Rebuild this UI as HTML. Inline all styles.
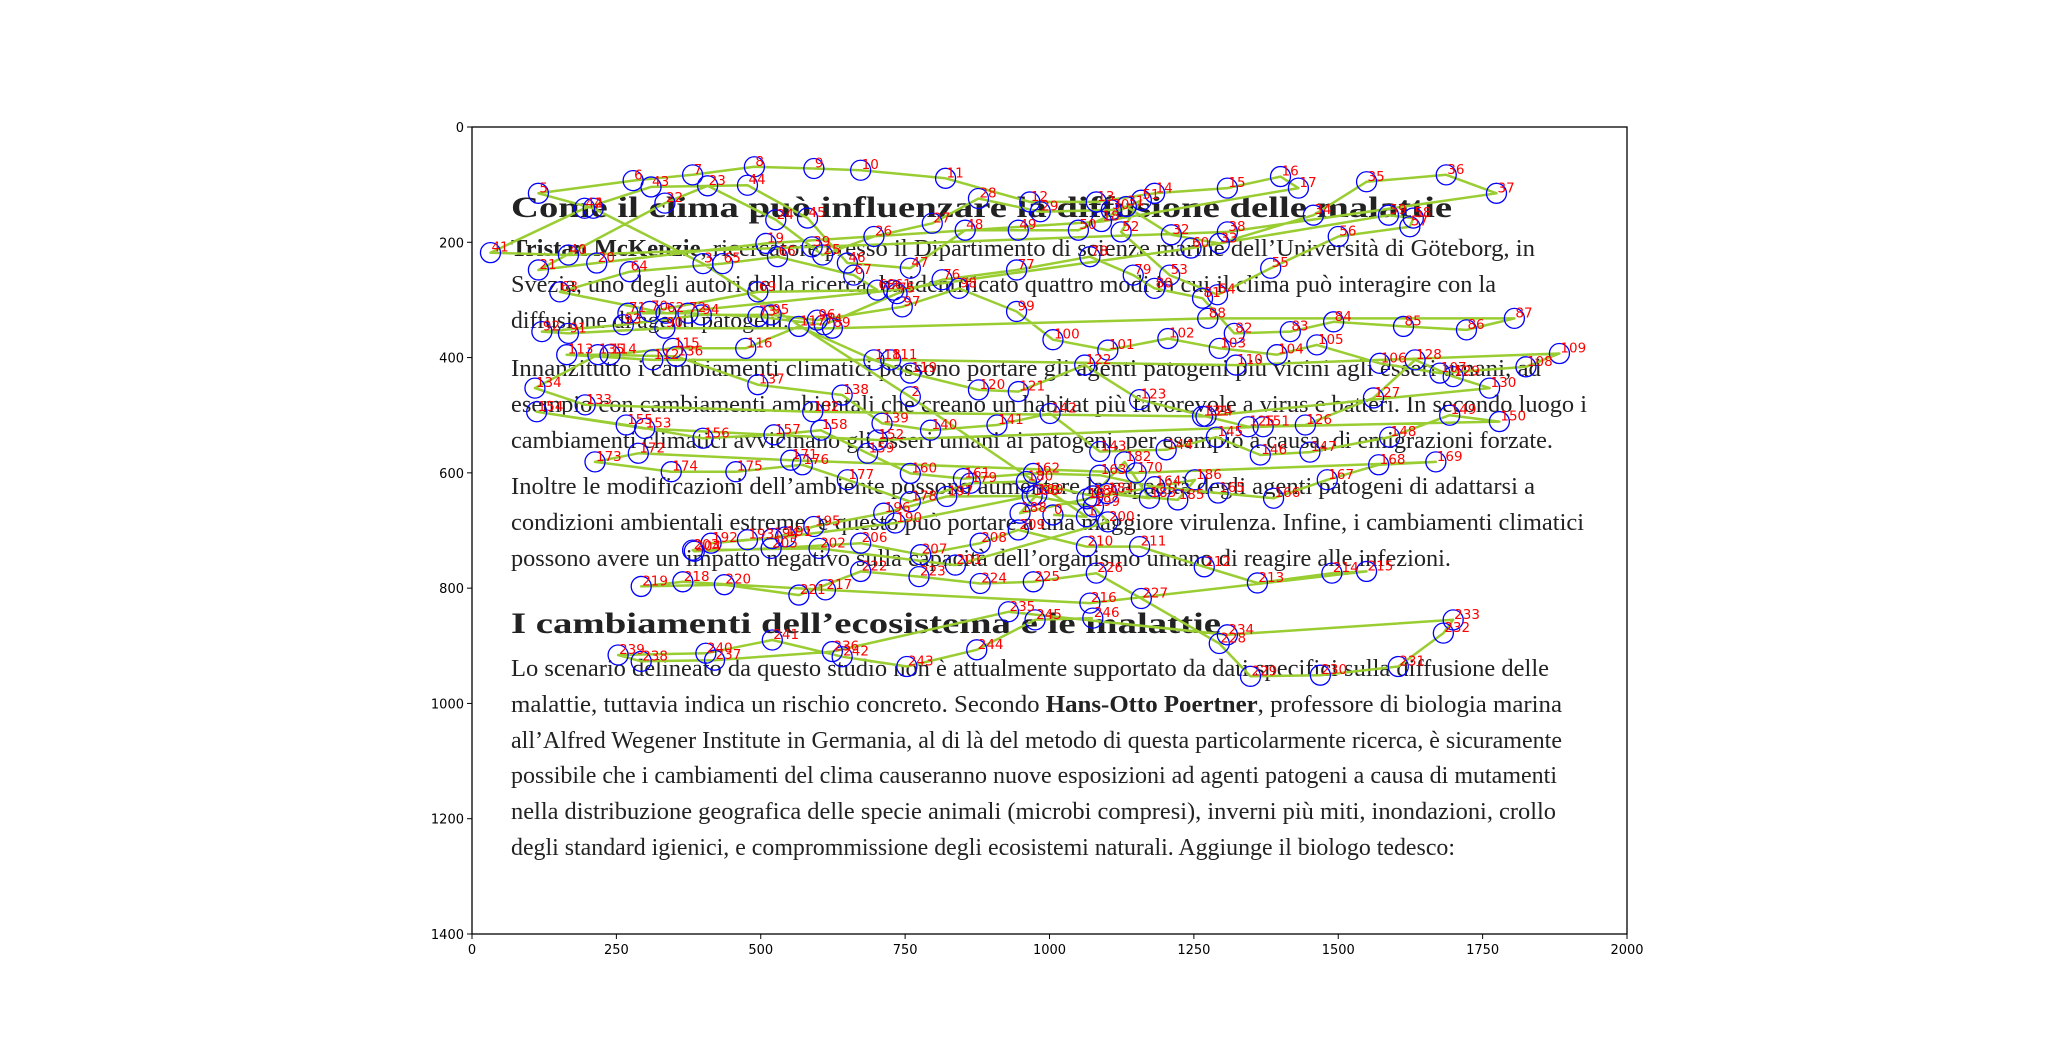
<!DOCTYPE html>
<html><head><meta charset="utf-8"><style>
html,body{margin:0;padding:0;background:#fff;}
svg{display:block;}
.body{font-family:"Liberation Serif","DejaVu Serif",serif;font-size:24px;fill:#222;}
.hd{font-family:"Liberation Serif","DejaVu Serif",serif;font-size:30px;font-weight:bold;fill:#222;}
.tick{font-family:"DejaVu Sans","Liberation Sans",sans-serif;font-size:13px;fill:#000;}
.lbl{font-family:"DejaVu Sans","Liberation Sans",sans-serif;font-size:13.5px;fill:#ff0000;}
</style></head><body>
<svg id="fig" width="2048" height="1050" viewBox="0 0 2048 1050" xmlns="http://www.w3.org/2000/svg">
<rect width="2048" height="1050" fill="#fff"/>
<g id="bgtext">
<text class="hd" x="511" y="217" textLength="941" lengthAdjust="spacingAndGlyphs">Come il clima può influenzare la diffusione delle malattie</text>
<text class="body" x="511" y="256" textLength="1024" lengthAdjust="spacingAndGlyphs"><tspan font-weight="bold">Tristan McKenzie</tspan>, ricercatore presso il Dipartimento di scienze marine dell’Università di Göteborg, in</text>
<text class="body" x="511" y="292" textLength="985" lengthAdjust="spacingAndGlyphs">Svezia, uno degli autori della ricerca, ha identificato quattro modi in cui il clima può interagire con la</text>
<text class="body" x="511" y="328" textLength="278" lengthAdjust="spacingAndGlyphs">diffusione di agenti patogeni.</text>
<text class="body" x="511" y="376" textLength="1030" lengthAdjust="spacingAndGlyphs">Innanzitutto i cambiamenti climatici possono portare gli agenti patogeni più vicini agli esseri umani, ad</text>
<text class="body" x="511" y="412" textLength="1076" lengthAdjust="spacingAndGlyphs">esempio con cambiamenti ambientali che creano un habitat più favorevole a virus e batteri. In secondo luogo i</text>
<text class="body" x="511" y="448" textLength="1042" lengthAdjust="spacingAndGlyphs">cambiamenti climatici avvicinano gli esseri umani ai patogeni, per esempio a causa, di emigrazioni forzate.</text>
<text class="body" x="511" y="494" textLength="1024" lengthAdjust="spacingAndGlyphs">Inoltre  le modificazioni dell’ambiente possono aumentare la capacità degli agenti patogeni di adattarsi a</text>
<text class="body" x="511" y="530" textLength="1073" lengthAdjust="spacingAndGlyphs">condizioni ambientali estreme, e questo può portare a una maggiore virulenza. Infine, i cambiamenti climatici</text>
<text class="body" x="511" y="566" textLength="940" lengthAdjust="spacingAndGlyphs">possono avere un impatto negativo sulla capacità dell’organismo umano di reagire alle infezioni.</text>
<text class="hd" x="511" y="633" textLength="710" lengthAdjust="spacingAndGlyphs">I cambiamenti dell’ecosistema e le malattie</text>
<text class="body" x="511" y="676" textLength="1038" lengthAdjust="spacingAndGlyphs">Lo scenario delineato da questo studio non è attualmente supportato da dati specifici sulla diffusione delle</text>
<text class="body" x="511" y="712" textLength="1051" lengthAdjust="spacingAndGlyphs">malattie, tuttavia indica un rischio concreto. Secondo <tspan font-weight="bold">Hans-Otto Poertner</tspan>, professore di biologia marina</text>
<text class="body" x="511" y="748" textLength="1051" lengthAdjust="spacingAndGlyphs">all’Alfred Wegener Institute in Germania, al di là del metodo di questa particolarmente ricerca, è sicuramente</text>
<text class="body" x="511" y="783" textLength="1046" lengthAdjust="spacingAndGlyphs">possibile che i cambiamenti del clima causeranno nuove esposizioni ad agenti patogeni a causa di mutamenti</text>
<text class="body" x="511" y="819" textLength="1045" lengthAdjust="spacingAndGlyphs">nella distribuzione geografica delle specie animali (microbi compresi), inverni più miti, inondazioni,  crollo</text>
<text class="body" x="511" y="855" textLength="944" lengthAdjust="spacingAndGlyphs">degli standard igienici, e comprommissione degli ecosistemi naturali. Aggiunge il biologo tedesco:</text>
</g>
<g id="marks"></g>
<rect x="472" y="127" width="1155" height="807" fill="none" stroke="#000" stroke-width="1.3"/>
<g id="axes"></g>
</svg>
<script>
const xs=[1006,1064,759,400,210,115,279,382,489,592,673,820,966,1081,1182,1308,1400,1431,1090,509,216,115,334,408,526,607,696,797,877,984,1107,1133,1211,1294,1457,1549,1687,1774,1308,589,167,32,195,310,477,581,650,759,854,946,1050,1159,1124,1208,1291,1383,1500,1624,1630,1587,1245,730,336,152,273,434,529,661,702,495,308,270,374,495,610,736,814,943,1070,1145,1182,1265,1320,1417,1492,1613,1722,1805,1274,624,334,167,121,262,397,518,598,745,843,943,1006,1101,1205,1294,1394,1463,1572,1676,1825,1883,1323,725,313,164,239,348,474,566,696,759,877,946,1061,1156,1271,1344,1443,1561,1633,1699,1762,1265,590,196,109,218,354,495,641,710,794,909,1001,1087,1202,1289,1365,1451,1589,1693,1779,1370,702,299,112,267,400,523,604,685,759,851,972,1087,1182,1292,1388,1481,1570,1669,1150,552,288,213,345,457,572,650,759,863,960,1075,1130,1173,1100,1222,1252,1065,949,978,733,543,414,477,520,592,713,822,970,1076,1101,837,601,382,385,518,673,777,880,946,1064,1156,1268,1360,1489,1549,1070,612,365,293,437,566,673,774,880,972,1081,1159,1294,1348,1469,1604,1682,1699,1308,929,624,420,293,253,405,520,641,753,874,975,1075];
const ys=[673,676,468,237,141,115,93,83,69,72,75,89,130,130,115,106,86,106,164,202,236,248,132,102,161,222,190,167,124,147,144,138,187,202,153,95,83,115,182,208,222,218,141,104,101,158,236,245,179,179,179,127,182,257,291,245,190,173,158,153,210,283,323,286,251,237,225,257,283,286,320,323,323,329,343,289,265,248,225,257,280,297,358,355,338,346,352,332,332,349,349,358,355,343,326,326,335,312,280,320,369,387,367,384,395,378,410,427,416,393,413,404,404,395,395,384,384,346,404,427,456,459,413,473,502,520,517,470,404,433,453,502,494,482,453,395,398,447,465,514,526,517,497,563,560,538,569,564,538,500,511,520,543,523,494,517,540,534,526,566,601,610,601,604,624,635,644,612,586,581,600,578,566,581,598,598,586,612,650,618,615,640,581,644,636,647,612,645,670,638,687,711,722,716,714,693,670,641,640,659,685,760,731,734,736,731,722,742,722,699,728,728,763,791,774,771,826,803,789,797,794,812,771,780,792,789,774,818,896,953,951,936,878,855,881,841,910,925,927,916,913,890,919,936,907,855,852];
const xTicks=[0,250,500,750,1000,1250,1500,1750,2000];
const yTicks=[0,200,400,600,800,1000,1200,1400];
const X0=472,X1=1627,Y0=127,Y1=934;
function sx(v){return X0+(v/2000)*(X1-X0);}
function sy(v){return Y0+(v/1400)*(Y1-Y0);}
const NS="http://www.w3.org/2000/svg";
const marks=document.getElementById('marks');
let d='';
for(let i=0;i<xs.length;i++){d+=(i?'L':'M')+sx(xs[i]).toFixed(1)+' '+sy(ys[i]).toFixed(1);}
const path=document.createElementNS(NS,'path');


path.setAttribute('d',d);path.setAttribute('fill','none');path.setAttribute('stroke','#9acd32');path.setAttribute('stroke-width','2.5');path.setAttribute('stroke-linejoin','round');
marks.appendChild(path);
for(let i=0;i<xs.length;i++){
 const c=document.createElementNS(NS,'circle');
 
 
 c.setAttribute('cx',sx(xs[i]));c.setAttribute('cy',sy(ys[i]));c.setAttribute('r','10');
 c.setAttribute('fill','none');c.setAttribute('stroke','#0000ff');c.setAttribute('stroke-width','1.3');
 marks.appendChild(c);
}
for(let i=0;i<xs.length;i++){
 const t=document.createElementNS(NS,'text');
 
 
 t.setAttribute('class','lbl');t.setAttribute('x',sx(xs[i])+1);t.setAttribute('y',sy(ys[i])-1);
 t.textContent=String(i);
 marks.appendChild(t);
}
const axes=document.getElementById('axes');
xTicks.forEach(v=>{
 const l=document.createElementNS(NS,'line');
 
 
 l.setAttribute('x1',sx(v));l.setAttribute('x2',sx(v));l.setAttribute('y1',Y1);l.setAttribute('y2',Y1+5);l.setAttribute('stroke','#000');
 axes.appendChild(l);
 const t=document.createElementNS(NS,'text');
 
 
 t.setAttribute('class','tick');t.setAttribute('x',sx(v));t.setAttribute('y',Y1+20);t.setAttribute('text-anchor','middle');
 t.textContent=v;axes.appendChild(t);
});
yTicks.forEach(v=>{
 const l=document.createElementNS(NS,'line');
 
 
 l.setAttribute('x1',X0-5);l.setAttribute('x2',X0);l.setAttribute('y1',sy(v));l.setAttribute('y2',sy(v));l.setAttribute('stroke','#000');
 axes.appendChild(l);
 const t=document.createElementNS(NS,'text');
 
 
 t.setAttribute('class','tick');t.setAttribute('x',X0-8);t.setAttribute('y',sy(v)+5);t.setAttribute('text-anchor','end');
 t.textContent=v;axes.appendChild(t);
});
</script>
</body></html>
